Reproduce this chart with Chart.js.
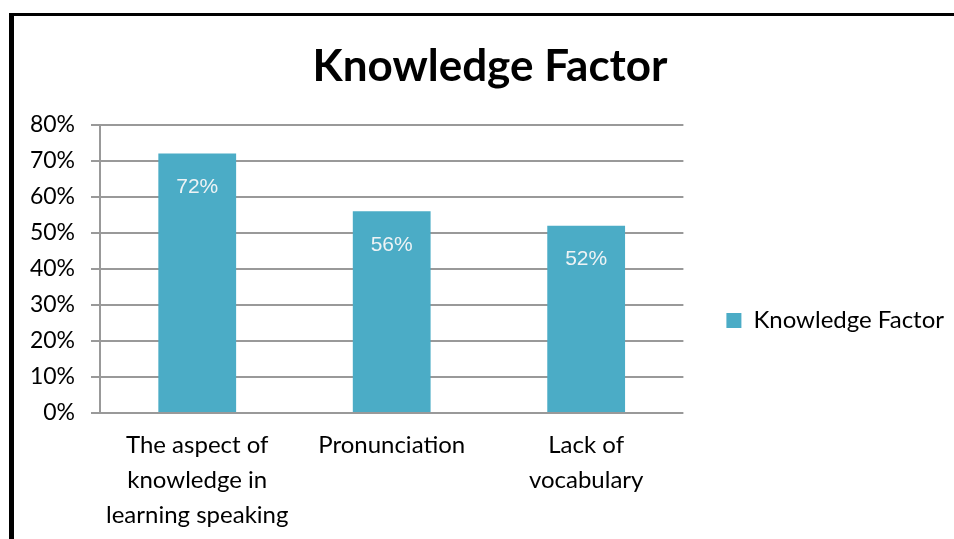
<!DOCTYPE html>
<html>
<head>
<meta charset="utf-8">
<script src="https://cdn.jsdelivr.net/npm/chart.js@4/dist/chart.umd.min.js"></script>
<style>
  html, body { margin: 0; padding: 0; background: #fff; overflow: hidden; }
  #wrap { position: relative; width: 954px; height: 539px; }
  #frame { position: absolute; left: 9px; top: 13px; width: 1000px; height: 600px;
           border-left: 5px solid #000; border-top: 3px solid #000; }
  canvas { position: absolute; left: 0; top: 0; }
</style>
</head>
<body>
<div id="wrap">
  <div id="frame"></div>
  <canvas id="chart" width="954" height="539"></canvas>
</div>
<script>
var categories = [
  ['The aspect of', 'knowledge in', 'learning speaking'],
  'Pronunciation',
  ['Lack of', 'vocabulary']
]
var values = [72, 56, 52]
var seriesName = 'Knowledge Factor'
var yTicks = [0, 10, 20, 30, 40, 50, 60, 70, 80]

var font = 'Lato, Calibri, sans-serif'

// value labels inside the top of each bar
var barLabels = {
  id: 'barLabels',
  afterDatasetsDraw: function(chart) {
    var ctx = chart.ctx
    var meta = chart.getDatasetMeta(0)
    ctx.save()
    ctx.font = '21px "Liberation Sans", Arial, sans-serif'
    ctx.fillStyle = '#eef3f5'
    ctx.textAlign = 'center'
    ctx.textBaseline = 'middle'
    meta.data.forEach(function(bar, i) {
      ctx.fillText(values[i] + '%', bar.x, bar.y + 34)
    })
    ctx.restore()
  }
}

function draw() {
  var ctx = document.getElementById('chart').getContext('2d')
  return new Chart(ctx, {
    type: 'bar',
    data: {
      labels: categories,
      datasets: [{
        label: seriesName,
        data: values,
        backgroundColor: '#4bacc6',
        borderWidth: 0,
        categoryPercentage: 1,
        barPercentage: 0.4
      }]
    },
    options: {
      responsive: false,
      animation: false,
      layout: { padding: { left: 26, right: 0, top: 0, bottom: 0 } },
      plugins: {
        title: {
          display: true,
          text: 'Knowledge Factor',
          color: '#000',
          font: { family: font, size: 44, weight: 'bold', lineHeight: 1.2 },
          padding: { top: 40, bottom: 32 }
        },
        legend: {
          position: 'right',
          maxWidth: 400,
          title: { display: true, text: '', font: { size: 10, lineHeight: 1 }, padding: { top: 92, bottom: 0 } },
          labels: {
            boxWidth: 15,
            boxHeight: 15,
            padding: 43,
            color: '#000',
            font: { family: font, size: 24 }
          }
        },
        tooltip: { enabled: false }
      },
      scales: {
        x: {
          grid: { display: false, drawTicks: false },
          border: { display: false },
          ticks: {
            color: '#000',
            padding: 15,
            maxRotation: 0,
            autoSkip: false,
            font: { family: font, size: 24, lineHeight: 1.46 }
          },
          afterFit: function(scale) { scale.height = 126 }
        },
        y: {
          min: 0,
          max: 80,
          afterBuildTicks: function(scale) {
            scale.ticks = yTicks.map(function(v) { return { value: v } })
          },
          grid: { color: '#999', lineWidth: 2, tickLength: 9 },
          border: { color: '#999', width: 2 },
          ticks: {
            color: '#000',
            padding: 16,
            font: { family: font, size: 23 },
            callback: function(v) { return v + '%' }
          },
          afterFit: function(scale) { scale.width = 74 }
        }
      }
    },
    plugins: [barLabels]
  })
}

Promise.all([
  document.fonts.load('24px Lato'),
  document.fonts.load('bold 44px Lato'),
  document.fonts.load('21px "Liberation Sans"')
]).then(draw, draw)
</script>
</body>
</html>
